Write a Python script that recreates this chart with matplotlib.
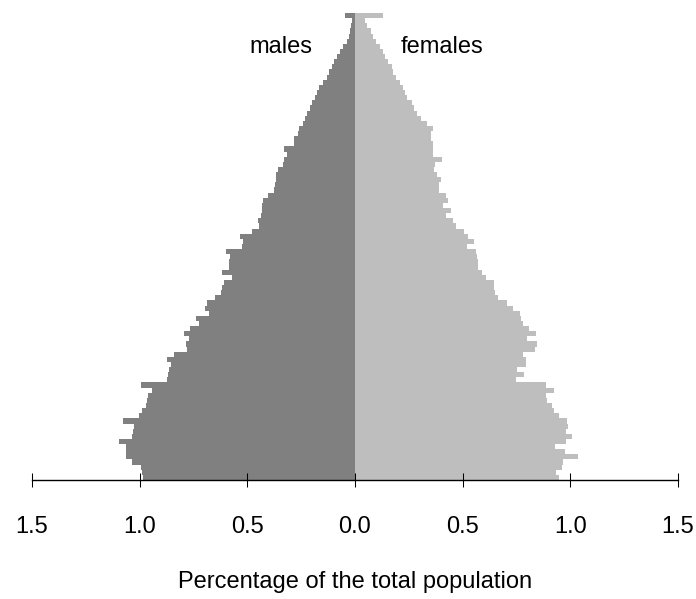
import numpy as np
import matplotlib.pyplot as plt

plt.rcParams['font.family'] = ['Liberation Sans', 'DejaVu Sans']

# Altersgruppen 0..90 (unten -> oben), Anteil an der Gesamtbevoelkerung in %
ages = np.arange(91)

males = [0.985, 0.989, 0.995, 1.034, 1.065, 1.062, 1.062, 1.098, 1.037, 1.033,
         1.028, 1.078, 1.003, 0.987, 0.972, 0.964, 0.960, 0.943, 0.995, 0.873,
         0.870, 0.864, 0.853, 0.873, 0.842, 0.780, 0.786, 0.771, 0.795, 0.767,
         0.724, 0.740, 0.680, 0.698, 0.688, 0.651, 0.623, 0.617, 0.609, 0.573,
         0.619, 0.587, 0.585, 0.581, 0.600, 0.527, 0.520, 0.535, 0.479, 0.445,
         0.450, 0.436, 0.434, 0.433, 0.429, 0.403, 0.377, 0.372, 0.367, 0.367,
         0.357, 0.336, 0.330, 0.318, 0.329, 0.284, 0.282, 0.265, 0.260, 0.240,
         0.233, 0.222, 0.209, 0.199, 0.186, 0.178, 0.166, 0.147, 0.131, 0.120,
         0.108, 0.096, 0.082, 0.070, 0.054, 0.039, 0.028, 0.023, 0.019, 0.015,
         0.047]

females = [0.949, 0.935, 0.961, 0.966, 1.036, 0.977, 0.930, 0.981, 1.008, 0.981,
           0.989, 0.985, 0.947, 0.926, 0.915, 0.893, 0.888, 0.926, 0.888, 0.749,
           0.786, 0.752, 0.794, 0.794, 0.780, 0.837, 0.845, 0.799, 0.840, 0.809,
           0.780, 0.770, 0.765, 0.736, 0.708, 0.664, 0.651, 0.647, 0.647, 0.609,
           0.589, 0.573, 0.571, 0.566, 0.563, 0.520, 0.553, 0.527, 0.507, 0.468,
           0.454, 0.422, 0.445, 0.408, 0.431, 0.422, 0.389, 0.389, 0.399, 0.383,
           0.369, 0.372, 0.403, 0.361, 0.361, 0.361, 0.355, 0.352, 0.361, 0.333,
           0.306, 0.287, 0.274, 0.264, 0.240, 0.233, 0.222, 0.209, 0.191, 0.178,
           0.171, 0.155, 0.140, 0.129, 0.116, 0.098, 0.085, 0.073, 0.054, 0.047,
           0.132]

tick_vals = [-1.5, -1.0, -0.5, 0.0, 0.5, 1.0, 1.5]
tick_labels = ['1.5', '1.0', '0.5', '0.0', '0.5', '1.0', '1.5']

W, H = 696, 599
fig = plt.figure(figsize=(W / 100, H / 100), dpi=100)
ax = fig.add_axes([32 / W, 119 / H, 646 / W, 467 / H])

ax.barh(ages + 0.5, -np.array(males), height=1.0, color='#808080', linewidth=0)
ax.barh(ages + 0.5, females, height=1.0, color='#BEBEBE', linewidth=0)

ax.set_xlim(-1.5, 1.5)
ax.set_ylim(0, len(ages))

for s in ['left', 'right', 'top']:
    ax.spines[s].set_visible(False)
ax.spines['bottom'].set_linewidth(1.0)
ax.set_yticks([])
ax.set_xticks(tick_vals)
ax.set_xticklabels(tick_labels)
ax.tick_params(axis='x', direction='inout', length=10.4, width=0.75,
               pad=21, labelsize=17)

ax.text(-0.344, 84.4, 'males', ha='center', va='center', fontsize=17)
ax.text(0.404, 84.4, 'females', ha='center', va='center', fontsize=17)

fig.text(355 / W, 1 - 582 / H, 'Percentage of the total population',
         ha='center', va='center', fontsize=17)

fig.savefig('out.png', dpi=100)
